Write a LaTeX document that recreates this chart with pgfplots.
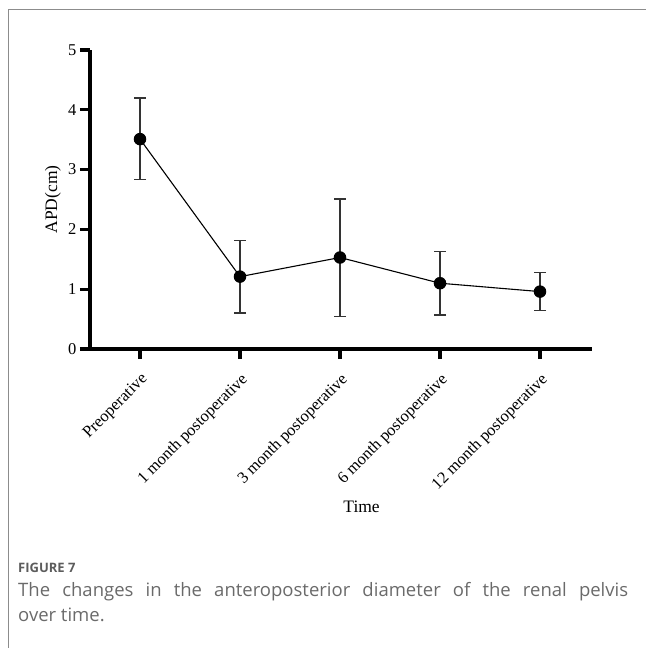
\documentclass[border=0pt]{standalone}
\usepackage{pgfplots}
\pgfplotsset{compat=1.18}
\usepackage{fontspec}
\setmainfont{Liberation Serif}
\newfontfamily\capfont{Open Sans}
\definecolor{capgray}{HTML}{6A6A6A}
\definecolor{figgray}{HTML}{5C5C5C}
\definecolor{framegray}{HTML}{8C8C8C}
\definecolor{errgray}{HTML}{333333}
\pgfplotstableread{
x y ep em
0 3.51 0.69 0.68
1 1.21 0.60 0.61
2 1.53 0.98 0.99
3 1.10 0.53 0.53
4 0.96 0.32 0.32
}\apddata
\begin{document}
\begin{tikzpicture}
\useasboundingbox (0,0) rectangle (646pt,648pt);
\draw[framegray, line width=1pt] (8.5pt,0pt) -- (8.5pt,638pt) -- (646pt,638pt);
\begin{axis}[
  at={(90pt,299pt)}, anchor=south west,
  scale only axis, width=502pt, height=299pt,
  xmin=-0.5, xmax=4.52, ymin=0, ymax=5,
  axis x line=bottom, axis y line=left,
  axis line style={-, line width=3.2pt, black},
  every outer x axis line/.append style={-, line width=3.2pt, black},
  every outer y axis line/.append style={-, line width=3.2pt, black},
  tick align=outside, major tick length=10pt,
  major tick style={line width=3.2pt, black},
  xtick={0,1,2,3,4},
  xticklabels={Preoperative, 1 month postoperative, 3 month postoperative, 6 month postoperative, 12 month postoperative},
  ytick={0,1,2,3,4,5},
  xticklabel shift=8pt,
  x tick label style={rotate=45, anchor=north east, font=\fontsize{16.5}{18}\selectfont},
  y tick label style={font=\fontsize{16.5}{18}\selectfont},
  /pgf/number format/assume math mode=true,
  xlabel={Time}, ylabel={APD(cm)},
  label style={font=\fontsize{17.5}{20}\selectfont},
  xlabel style={at={(axis description cs:0.541,-0.528)}, anchor=center},
  ylabel style={at={(axis description cs:-0.0737,0.5)}, anchor=center},
  clip=false,
]
\addplot[black, line width=1.1pt, mark=*, mark size=5.7pt,
  error bars/.cd, y dir=both, y explicit,
  error bar style={line width=1.4pt, color=errgray},
  error mark options={rotate=90, line width=1.4pt, mark size=6pt, color=errgray}]
  table[x=x, y=y, y error plus=ep, y error minus=em] {\apddata};
\end{axis}
\node[anchor=base west, inner sep=0pt, text=figgray, font=\capfont\bfseries\fontsize{13}{15}\selectfont] at (18pt,75pt)
  {FIGURE 7};
\node[anchor=base west, inner sep=0pt, text=capgray, text width=610pt, align=justify,
  font=\capfont\fontsize{18.5}{25}\selectfont] at (18pt,51pt)
  {The changes in the anteroposterior diameter of the renal pelvis\linebreak over time.};
\end{tikzpicture}
\end{document}
